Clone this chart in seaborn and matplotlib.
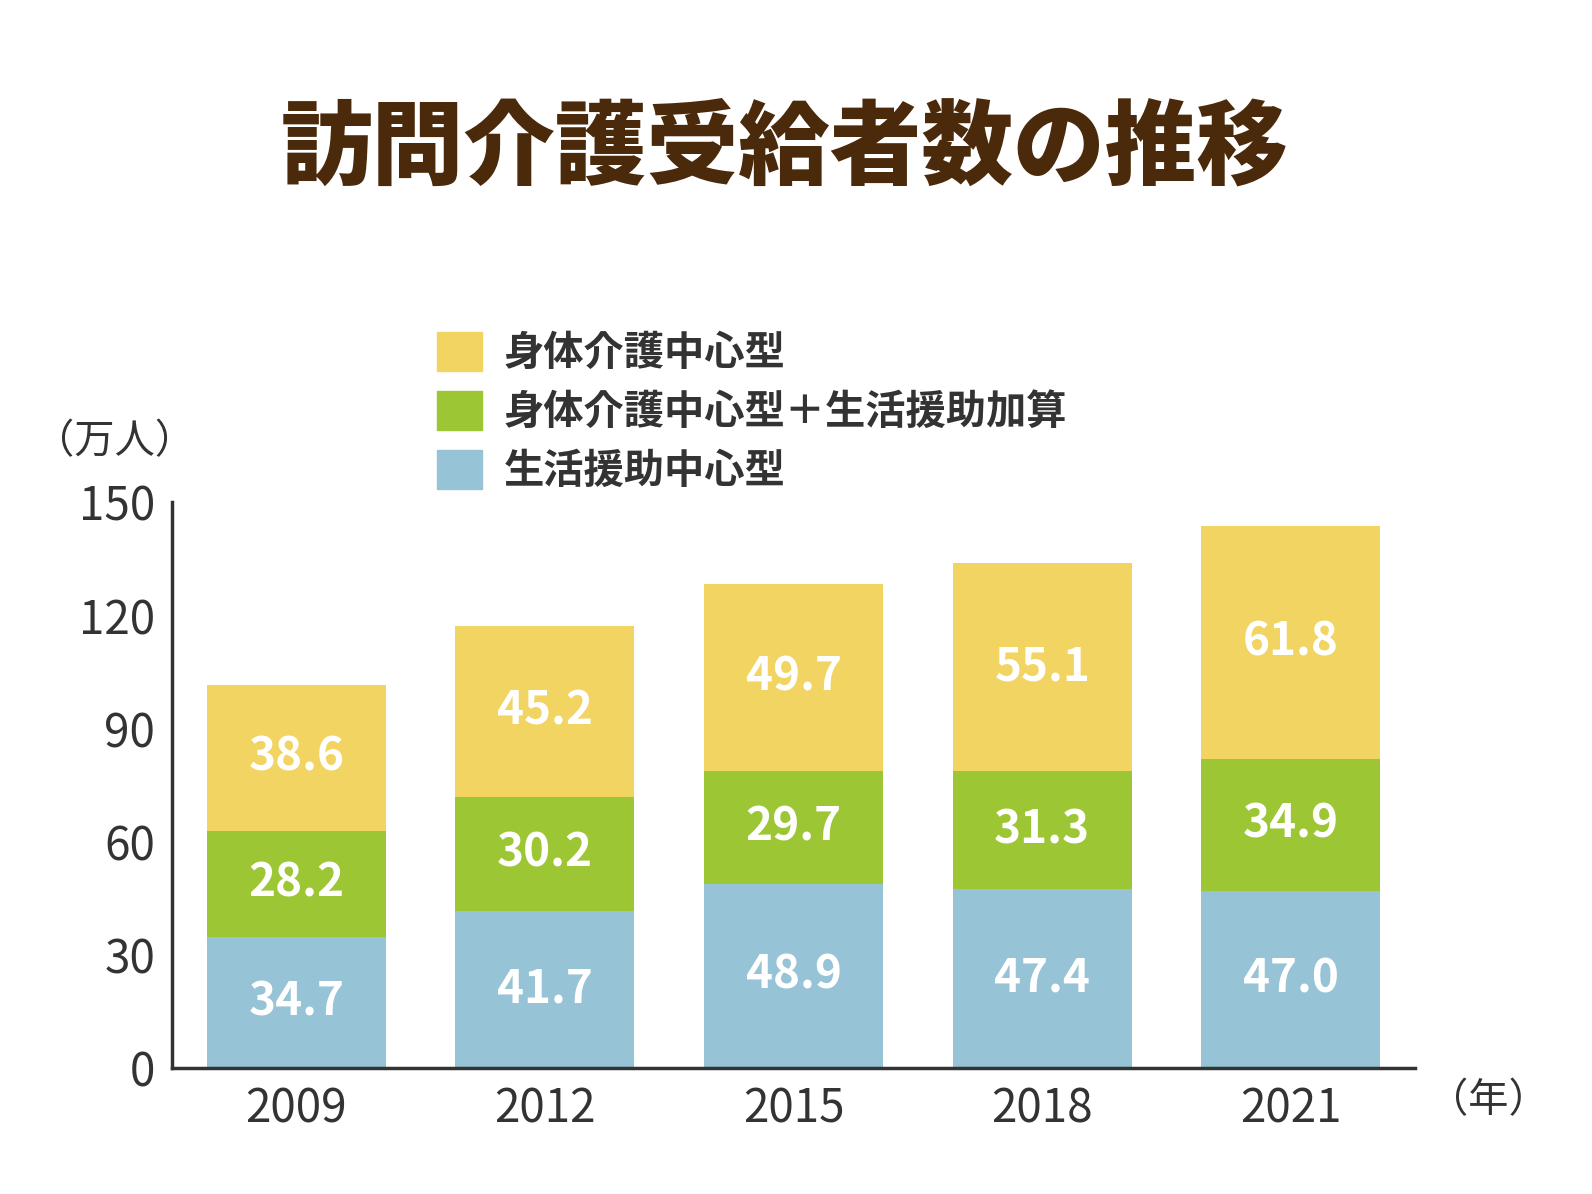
import matplotlib
matplotlib.use("Agg")
import matplotlib.pyplot as plt
import seaborn as sns
import pandas as pd
from matplotlib.patches import Patch

years = ["2009", "2012", "2015", "2018", "2021"]
seikatsu = [34.7, 41.7, 48.9, 47.4, 47.0]
kasan = [28.2, 30.2, 29.7, 31.3, 34.9]
shintai = [38.6, 45.2, 49.7, 55.1, 61.8]
series_names = ["身体介護中心型", "身体介護中心型＋生活援助加算", "生活援助中心型"]
colors = {"blue": "#96C3D6", "green": "#9DC635", "yellow": "#F1D462"}

plt.rcParams["font.family"] = "Noto Sans CJK JP"
fig = plt.figure(figsize=(15.92, 11.94), dpi=100)
ax = fig.add_axes([0.108, 0.1055, 0.781, 0.474])

df = pd.DataFrame({"year": years, "s": seikatsu, "k": kasan, "t": shintai})
b2 = [a + b for a, b in zip(seikatsu, kasan)]
sns.barplot(data=df, x="year", y="s", color=colors["blue"], width=0.72, saturation=1, ax=ax)
sns.barplot(data=df, x="year", y="k", color=colors["green"], width=0.72, saturation=1, ax=ax, bottom=seikatsu)
sns.barplot(data=df, x="year", y="t", color=colors["yellow"], width=0.72, saturation=1, ax=ax, bottom=b2)

for i in range(len(years)):
    for base, v in [(0, seikatsu[i]), (seikatsu[i], kasan[i]), (b2[i], shintai[i])]:
        ax.text(i, base + v / 2, f"{v:.1f}", ha="center", va="center", color="white",
                fontsize=33, fontweight="bold")

ax.set_xlim(-0.5, 4.5)
ax.set_ylim(0, 150)
ax.set_yticks([0, 30, 60, 90, 120, 150])
ax.set_xlabel("")
ax.set_ylabel("")
for s in ["top", "right"]:
    ax.spines[s].set_visible(False)
for s in ["left", "bottom"]:
    ax.spines[s].set_color("#333333")
    ax.spines[s].set_linewidth(2.5)
ax.tick_params(axis="both", length=0, labelsize=33, colors="#333333", pad=12)

fig.text(0.493, 0.875, "訪問介護受給者数の推移", ha="center", va="center", fontsize=66,
         fontweight="heavy", color="#4A2A0A")
fig.text(0.072, 0.63, "（万人）", ha="center", va="center", fontsize=29, color="#333333")
fig.text(0.935, 0.078, "（年）", ha="center", va="center", fontsize=29, color="#333333")

handles = [Patch(color=colors["yellow"]), Patch(color=colors["green"]), Patch(color=colors["blue"])]
leg = fig.legend(handles, series_names, loc="upper left", bbox_to_anchor=(0.252, 0.752),
                 frameon=False, fontsize=29, handlelength=1.1, handleheight=1.1,
                 labelspacing=0.42, handletextpad=0.55)
for t in leg.get_texts():
    t.set_fontweight("bold")
    t.set_color("#333333")

fig.savefig("out.png", dpi=100)
